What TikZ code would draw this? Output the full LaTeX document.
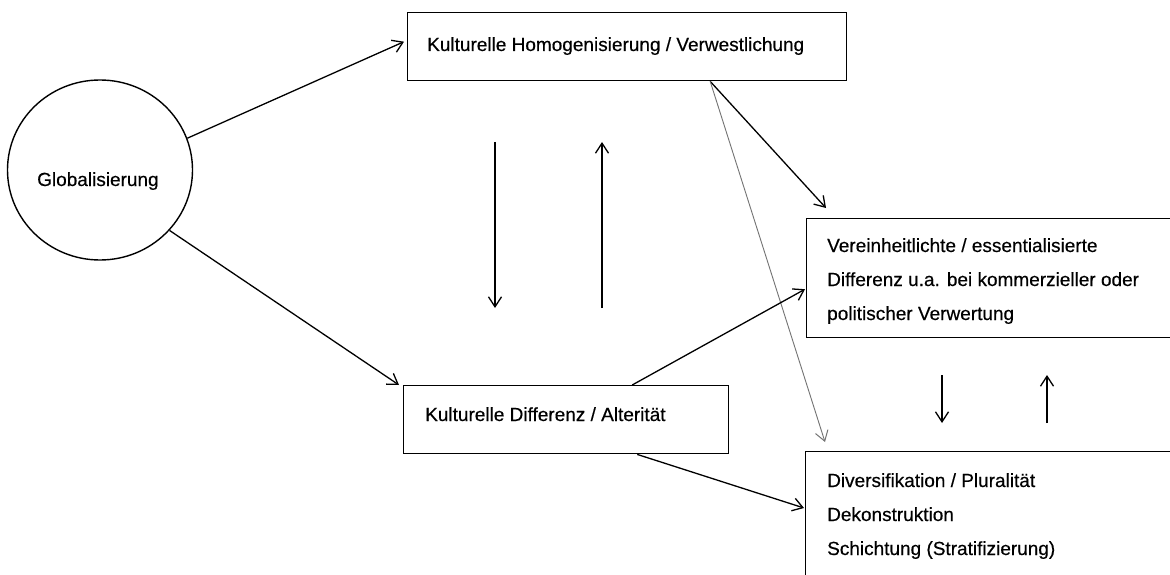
\documentclass[tikz,border=0pt]{standalone}
\usepackage{fontspec}
\setmainfont[FakeBold=0.4]{Liberation Sans}
\usetikzlibrary{arrows.meta,shapes.geometric}
\begin{document}
\begin{tikzpicture}[x=1pt,y=-1pt,
  boxshape/.style={draw, line width=1.4pt, inner sep=0pt, anchor=north west},
  lbl/.style={font=\fontsize{19}{34}\selectfont, anchor=base west, inner sep=0pt, align=left},
  arr/.style={line width=1.3pt, -{Straight Barb[length=10pt,width=13pt,line width=1.3pt]}},
  faint/.style={line width=0.9pt, draw=black!55, -{Straight Barb[length=10pt,width=13pt,line width=1pt]}}]
\useasboundingbox (0,0) rectangle (1170,575);
\fill[white] (0,0) rectangle (1170,575);
\clip (0,0) rectangle (1170,575);
% shapes
\node[draw, ellipse, line width=1.4pt, minimum width=185pt, minimum height=180pt, inner sep=0pt] (glob) at (100,170) {};
\node[boxshape, minimum width=439pt, minimum height=68pt] (top) at (407,12) {};
\node[boxshape, minimum width=325pt, minimum height=68pt] (diff) at (403,385) {};
\node[boxshape, minimum width=420pt, minimum height=119pt] (ver) at (806,218) {};
\node[boxshape, minimum width=420pt, minimum height=160pt] (div) at (805,451) {};
% texts (multi-line nodes: base = last line)
\node[lbl] (tglob) at (37,186) {Globalisierung};
\node[lbl] (ttop) at (427,51) {Kulturelle Homogenisierung / Verwestlichung};
\node[lbl] (tdiff) at (425,421) {Kulturelle Differenz / Alterität};
\node[lbl] (tver) at (827,320) {Vereinheitlichte / essentialisierte\\Differenz u.a. bei kommerzieller oder\\politischer Verwertung};
\node[lbl] (tdiv) at (827,555) {Diversifikation / Pluralität\\Dekonstruktion\\Schichtung (Stratifizierung)};
% free-standing arrow ends
\coordinate (d1a) at (495,142); \coordinate (d1b) at (495,308);
\coordinate (u1a) at (602,308); \coordinate (u1b) at (602,142);
\coordinate (d2a) at (942,375); \coordinate (d2b) at (942,423);
\coordinate (u2a) at (1047,423); \coordinate (u2b) at (1047,375);
\coordinate (tsrc) at ([xshift=83pt]top.south);
% connectors
\draw[arr] (glob.20) -- ([yshift=5pt,xshift=-3pt]top.west);
\draw[arr] (glob.-41) -- ([xshift=-4pt]diff.north west);
\draw[arr] (d1a) -- (d1b);
\draw[arr] (u1a) -- (u1b);
\draw[arr] (tsrc) -- ([xshift=20pt,yshift=10pt]ver.north west);
\draw[faint] (tsrc) -- ([xshift=20pt,yshift=9pt]div.north west);
\draw[arr] ([xshift=66pt]diff.north) -- ([yshift=-11pt,xshift=-1pt]ver.west);
\draw[arr] ([xshift=71pt]diff.south) -- ([yshift=-57pt,xshift=-1pt]div.north west);
\draw[arr] (d2a) -- (d2b);
\draw[arr] (u2a) -- (u2b);
\end{tikzpicture}
\end{document}
